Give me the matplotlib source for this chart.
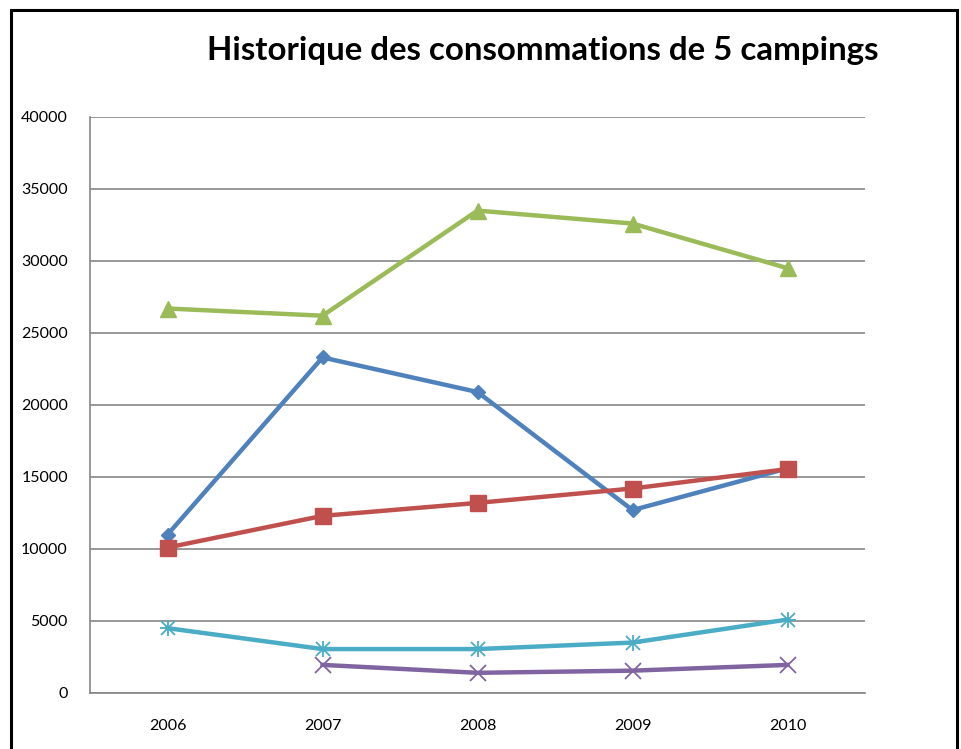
import matplotlib
matplotlib.use("Agg")
import matplotlib.pyplot as plt
from matplotlib.patches import Rectangle
import numpy as np

plt.rcParams["font.family"] = ["Lato", "DejaVu Sans"]

years = ["2006", "2007", "2008", "2009", "2010"]
camping1 = [11000, 23300, 20900, 12700, 15600]
camping2 = [10100, 12300, 13200, 14200, 15550]
camping3 = [26700, 26200, 33500, 32600, 29500]
camping4 = [np.nan, 1950, 1400, 1550, 1950]
camping5 = [4500, 3050, 3050, 3500, 5100]

BLUE, RED, GREEN, PURPLE, CYAN = "#4F81BD", "#C0504D", "#9BBB59", "#8064A2", "#4BACC6"
GRID = "#868686"

fig = plt.figure(figsize=(9.62, 7.49), dpi=100)
ax = fig.add_axes([0.0936, 0.0748, 0.8056, 0.769])
x = np.arange(len(years))

ax.plot(x, camping3, "-^", color=GREEN, lw=3.2, ms=11)
ax.plot(x, camping1, "-D", color=BLUE, lw=3.2, ms=7)
ax.plot(x, camping2, "-s", color=RED, lw=3.2, ms=11)
ax.plot(x, camping5, "-", color=CYAN, lw=3.2)
ax.plot(x, camping5, "x", color=CYAN, ms=10, mew=1.3)
ax.plot(x, camping5, "+", color=CYAN, ms=12, mew=1.3)
ax.plot(x, camping4, "-x", color=PURPLE, lw=3.2, ms=11, mew=1.3)

ax.set_xlim(-0.5, 4.5)
ax.set_ylim(0, 40000)
ax.set_yticks(np.arange(0, 40001, 5000))
ax.set_xticks(x)
ax.set_xticklabels(years)
ax.yaxis.grid(True, color=GRID, lw=1.2)
ax.set_axisbelow(True)
for s in ("top", "right"):
    ax.spines[s].set_visible(False)
for s in ("left", "bottom"):
    ax.spines[s].set_color(GRID)
    ax.spines[s].set_linewidth(1.2)
ax.tick_params(length=0, labelsize=11.5)
ax.tick_params(axis="y", pad=16)
ax.tick_params(axis="x", pad=19)

fig.text(0.564, 0.932, "Historique des consommations de 5 campings",
         ha="center", va="center", fontsize=23.8, fontweight="bold")

fig.patches.append(Rectangle((0.011, -0.05), 0.984, 1.037, transform=fig.transFigure,
                             fill=False, edgecolor="black", lw=2.2))

fig.savefig("out.png", dpi=100)
